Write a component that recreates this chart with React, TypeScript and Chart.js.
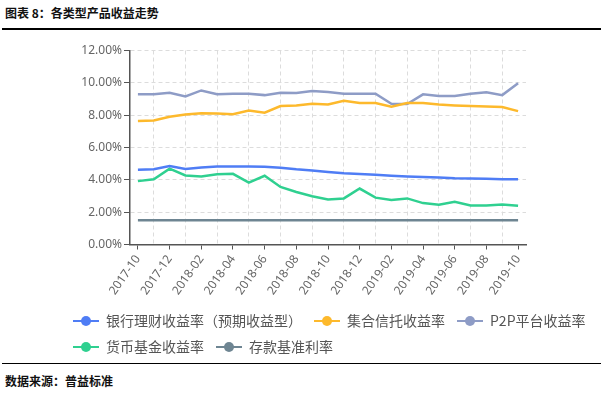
import React, { useEffect, useRef } from "react";
import { Chart, registerables } from "chart.js";

Chart.register(...registerables);

const months = [
  "2017-10", "2017-11", "2017-12", "2018-01", "2018-02", "2018-03", "2018-04",
  "2018-05", "2018-06", "2018-07", "2018-08", "2018-09", "2018-10", "2018-11",
  "2018-12", "2019-01", "2019-02", "2019-03", "2019-04", "2019-05", "2019-06",
  "2019-07", "2019-08", "2019-09", "2019-10",
];

const bankRate = [4.62, 4.65, 4.85, 4.67, 4.77, 4.82, 4.83, 4.82, 4.81, 4.75, 4.65, 4.58, 4.48, 4.40, 4.36, 4.31, 4.26, 4.21, 4.17, 4.15, 4.10, 4.09, 4.07, 4.04, 4.03];
const trustRate = [7.64, 7.67, 7.90, 8.04, 8.12, 8.11, 8.06, 8.29, 8.15, 8.56, 8.60, 8.70, 8.66, 8.89, 8.75, 8.75, 8.52, 8.75, 8.75, 8.66, 8.60, 8.56, 8.54, 8.50, 8.25];
const p2pRate = [9.30, 9.30, 9.39, 9.16, 9.53, 9.30, 9.32, 9.32, 9.24, 9.39, 9.37, 9.49, 9.43, 9.33, 9.33, 9.33, 8.71, 8.69, 9.29, 9.18, 9.18, 9.33, 9.41, 9.24, 9.97];
const moneyFundRate = [3.92, 4.04, 4.69, 4.27, 4.21, 4.35, 4.37, 3.83, 4.25, 3.56, 3.25, 2.98, 2.79, 2.85, 3.46, 2.90, 2.75, 2.85, 2.56, 2.46, 2.65, 2.42, 2.42, 2.48, 2.40];
const depositRate = [1.5, 1.5, 1.5, 1.5, 1.5, 1.5, 1.5, 1.5, 1.5, 1.5, 1.5, 1.5, 1.5, 1.5, 1.5, 1.5, 1.5, 1.5, 1.5, 1.5, 1.5, 1.5, 1.5, 1.5, 1.5];

const seriesNames = ["银行理财收益率（预期收益型）", "集合信托收益率", "P2P平台收益率", "货币基金收益率", "存款基准利率"];
const seriesColors = ["#4f7df5", "#fdb92c", "#8e9cc6", "#2fd090", "#6e8592"];
const seriesData = [bankRate, trustRate, p2pRate, moneyFundRate, depositRate];

const yTicks = [0, 2, 4, 6, 8, 10, 12];

const CJK = "'Noto Sans CJK SC', 'Noto Sans', sans-serif";

function makeMarker(color: string) {
  const c = document.createElement("canvas");
  c.width = 26;
  c.height = 14;
  const ctx = c.getContext("2d")!;
  ctx.strokeStyle = color;
  ctx.lineWidth = 2;
  ctx.beginPath();
  ctx.moveTo(0, 7);
  ctx.lineTo(26, 7);
  ctx.stroke();
  ctx.fillStyle = color;
  ctx.beginPath();
  ctx.arc(13, 7, 5, 0, Math.PI * 2);
  ctx.fill();
  return c;
}

export default function App() {
  const ref = useRef<HTMLCanvasElement>(null);

  useEffect(() => {
    if (!ref.current) return;
    const chart = new Chart(ref.current, {
      type: "line",
      data: {
        labels: months,
        datasets: seriesNames.map((name, i) => ({
          label: name,
          data: seriesData[i],
          borderColor: seriesColors[i],
          backgroundColor: seriesColors[i],
          borderWidth: 2.5,
          pointRadius: 0,
          pointHoverRadius: 0,
          pointStyle: makeMarker(seriesColors[i]) as any,
          tension: 0,
          xAxisID: "x",
          yAxisID: "y",
        })),
      },
      options: {
        animation: false,
        responsive: false,
        maintainAspectRatio: false,
        layout: { padding: { top: 15.5, bottom: 6, left: 0, right: 0 } },
        plugins: {
          legend: {
            position: "bottom",
            align: "start",
            labels: {
              usePointStyle: true,
              pointStyleWidth: 26,
              boxHeight: 14,
              padding: 12,
              color: "#555",
              font: { size: 14, family: CJK },
            },
          },
          tooltip: { enabled: false },
        },
        scales: {
          x: {
            type: "category",
            offset: true,
            grid: {
              offset: false,
              color: (c: any) => (c.index % 2 === 1 ? "#dcdcdc" : "rgba(0,0,0,0)"),
              tickColor: (c: any) => (c.index % 2 === 0 ? "#555" : "rgba(0,0,0,0)"),
              tickLength: 5,
              lineWidth: 1,
            },
            border: { color: "#555", width: 1.5, dash: [4, 3] },
            ticks: {
              autoSkip: false,
              minRotation: 55,
              maxRotation: 55,
              padding: 3,
              color: "#666",
              font: { size: 12, family: "'Noto Sans', sans-serif" },
              callback: (_v: any, i: number) => (i % 2 === 0 ? months[i] : ""),
            },
            afterFit: (s: any) => {
              s.height = 57.5;
            },
          },
          y: {
            min: yTicks[0],
            max: yTicks[yTicks.length - 1],
            afterBuildTicks: (s: any) => {
              s.ticks = yTicks.map((v) => ({ value: v }));
            },
            ticks: {
              padding: 2,
              color: "#666",
              font: { size: 12, family: "'Noto Sans', sans-serif" },
              callback: (v: any) => Number(v).toFixed(2) + "%",
            },
            grid: { color: "#dcdcdc", tickColor: "#555", tickLength: 6, lineWidth: 1 },
            border: { color: "#555", width: 1.5, dash: [4, 3] },
            afterFit: (s: any) => {
              s.width = 69;
            },
          },
          yR: {
            type: "linear",
            position: "right",
            display: true,
            grid: { drawOnChartArea: false, drawTicks: false },
            border: { display: false },
            ticks: { display: false },
            afterFit: (s: any) => {
              s.width = 77;
            },
          },
        },
      } as any,
    });
    return () => chart.destroy();
  }, []);

  return (
    <div style={{ position: "fixed", left: 0, top: 0, width: 603, height: 396, background: "#fff", fontFamily: CJK }}>
      <div style={{ position: "absolute", left: 5, top: 5, fontSize: 12, lineHeight: "16px", fontWeight: 700, color: "#111", whiteSpace: "nowrap" }}>
        图表 8：各类型产品收益走势
      </div>
      <div style={{ position: "absolute", left: 2, top: 28, width: 599, height: 1.5, background: "#000" }} />
      <canvas ref={ref} width={542} height={335} style={{ position: "absolute", left: 61, top: 35, width: 542, height: 335 }} />
      <div style={{ position: "absolute", left: 2, top: 362.5, width: 599, height: 1.5, background: "#000" }} />
      <div style={{ position: "absolute", left: 5, top: 373, fontSize: 12, lineHeight: "16px", fontWeight: 700, color: "#111", whiteSpace: "nowrap" }}>
        数据来源：普益标准
      </div>
    </div>
  );
}
